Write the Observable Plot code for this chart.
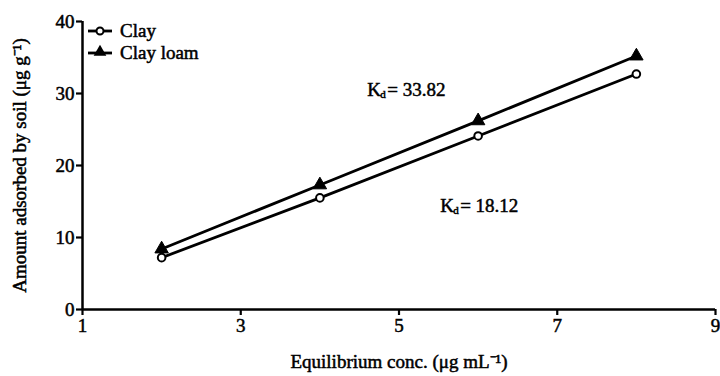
<!DOCTYPE html>
<html>
<head>
<meta charset="utf-8">
<script src="https://cdn.jsdelivr.net/npm/d3@7"></script>
<script src="https://cdn.jsdelivr.net/npm/@observablehq/plot@0.6"></script>
<style>
  html, body { margin: 0; padding: 0; background: #fff; }
  #wrap { position: relative; width: 720px; height: 376px; font-family: "Liberation Serif", serif; }
  #legend { position: absolute; left: 86px; top: 21px; }
  svg text { stroke: #000; stroke-width: 0.5px; paint-order: fill; }
</style>
</head>
<body>
<div id="wrap"></div>
<script>
// Data
const conc = [2, 4, 6, 8];
const clay = [7.2, 15.5, 24.1, 32.7];
const clayLoam = [8.4, 17.3, 26.2, 35.2];
const xTicks = [1, 3, 5, 7, 9];
const yTicks = [0, 10, 20, 30, 40];
const seriesNames = ["Clay", "Clay loam"];
const kdLabels = [
  {x: 4.6, y: 30.5, value: "= 33.82"},
  {x: 5.52, y: 14.4, value: "= 18.12"}
];

const clayData = conc.map((c, i) => ({x: c, y: clay[i]}));
const loamData = conc.map((c, i) => ({x: c, y: clayLoam[i]}));

const font = "Liberation Serif";

const chart = Plot.plot({
  width: 720,
  height: 376,
  marginLeft: 82,
  marginRight: 5,
  marginTop: 21,
  marginBottom: 67,
  style: {fontFamily: font, fontSize: "19px", color: "#000", background: "#fff", overflow: "visible"},
  x: {domain: [1, 9]},
  y: {domain: [0, 40]},
  marks: [
    Plot.axisX({ticks: xTicks, tickSize: 6, strokeWidth: 2.2, tickPadding: 3, fontSize: 19, label: null}),
    Plot.axisX({ticks: [], tickSize: 0, fontSize: 19, label: "Equilibrium conc. (μg mL⁻¹)", labelAnchor: "center", labelArrow: "none", labelOffset: 58}),
    Plot.axisY({ticks: yTicks, tickSize: 6, strokeWidth: 2.2, tickPadding: 2, fontSize: 19, label: null}),
    Plot.axisY({ticks: [], tickSize: 0, fontSize: 19, label: "Amount adsorbed by soil (μg g⁻¹)", labelAnchor: "center", labelArrow: "none", labelOffset: 70, dy: 3}),
    Plot.ruleX([1], {strokeWidth: 2.5}),
    Plot.ruleY([0], {strokeWidth: 2.5}),
    Plot.line(loamData, {x: "x", y: "y", strokeWidth: 2.8, stroke: "#000"}),
    Plot.line(clayData, {x: "x", y: "y", strokeWidth: 2.8, stroke: "#000"}),
    Plot.dot(loamData, {x: "x", y: "y", symbol: "triangle", r: 5, fill: "#000", stroke: "#000", strokeWidth: 1}),
    Plot.dot(clayData, {x: "x", y: "y", symbol: "circle", r: 3.8, fill: "#fff", stroke: "#000", strokeWidth: 2}),
    Plot.text(kdLabels, {x: "x", y: "y", text: () => "K", textAnchor: "start", fontSize: 19, fill: "#000"}),
    Plot.text(kdLabels, {x: "x", y: "y", text: () => "d", textAnchor: "start", dx: 13, dy: 5, fontSize: 11, fill: "#000"}),
    Plot.text(kdLabels, {x: "x", y: "y", text: "value", textAnchor: "start", dx: 20, fontSize: 19, fill: "#000"})
  ]
});
document.getElementById("wrap").appendChild(chart);

// Legend (symbols + labels)
const leg = d3.select("#wrap").append("svg").attr("id", "legend").attr("width", 150).attr("height", 48);
seriesNames.forEach((name, i) => {
  const g = leg.append("g").attr("transform", `translate(0,${10 + i * 22})`);
  g.append("line").attr("x1", 2).attr("x2", 26).attr("y1", 0).attr("y2", 0).attr("stroke", "#000").attr("stroke-width", 2.8);
  if (i === 0) {
    g.append("circle").attr("cx", 14).attr("cy", 0).attr("r", 3.5).attr("fill", "#fff").attr("stroke", "#000").attr("stroke-width", 2);
  } else {
    g.append("path").attr("d", d3.symbol(d3.symbolTriangle, 70)()).attr("transform", "translate(14,-1)").attr("fill", "#000");
  }
  g.append("text").attr("x", 34).attr("y", 6).text(name)
    .attr("font-family", font).attr("font-size", 19);
});
</script>
</body>
</html>
